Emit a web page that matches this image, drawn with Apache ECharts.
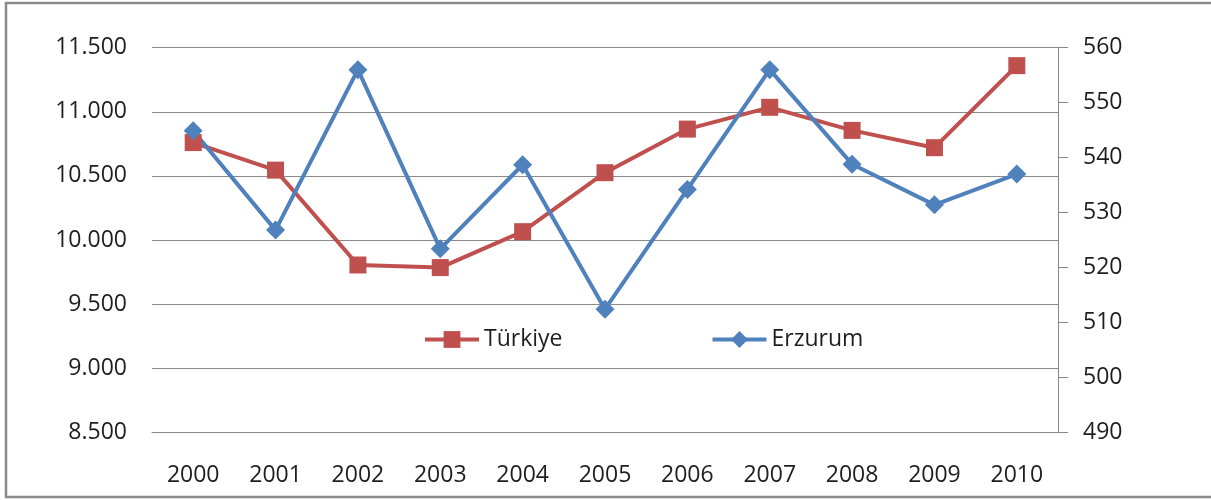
<!DOCTYPE html>
<html>
<head>
<meta charset="utf-8">
<script src="https://cdn.jsdelivr.net/npm/echarts@6/dist/echarts.min.js"></script>
<style>
html,body{margin:0;padding:0;background:#fff;}
#c{width:1211px;height:500px;}
</style>
</head>
<body>
<div id="c"></div>
<script>
const years = ['2000','2001','2002','2003','2004','2005','2006','2007','2008','2009','2010'];
const turkiye = [10760, 10545, 9805, 9785, 10065, 10525, 10865, 11035, 10855, 10720, 11360];
const erzurum = [544.9, 526.8, 556, 523.4, 538.7, 512.4, 534.2, 556, 538.8, 531.4, 537];
const leftMin = 8500, leftMax = 11500, leftStep = 500;
const rightMin = 490, rightMax = 560, rightStep = 10;

const font = 'Open Sans';
const fs = 23;
const chart = echarts.init(document.getElementById('c'));
chart.setOption({
  backgroundColor: '#fff',
  animation: false,
  graphic: [{
    type: 'rect', silent: true,
    shape: { x: 6, y: 3, width: 1220, height: 494 },
    style: { fill: 'none', stroke: '#8a8a8a', lineWidth: 2.5 }
  }],
  grid: { left: 152, right: 153, top: 47.7, bottom: 67.7 },
  legend: {
    left: 418, top: 323,
    itemWidth: 54, itemHeight: 21, itemGap: 148,
    lineStyle: { width: 4 },
    textStyle: { fontFamily: font, fontSize: fs, color: '#1e1e1e' },
    data: ['Türkiye', 'Erzurum']
  },
  xAxis: {
    type: 'category', data: years, boundaryGap: true,
    axisLine: { show: true, lineStyle: { color: '#888', width: 1 } },
    axisTick: { show: false },
    axisLabel: { fontFamily: font, fontSize: fs, color: '#1e1e1e', margin: 32 }
  },
  yAxis: [{
    type: 'value', min: leftMin, max: leftMax, interval: leftStep,
    axisLine: { show: false }, axisTick: { show: false },
    splitLine: { show: true, lineStyle: { color: '#8a8a8a', width: 1 } },
    axisLabel: { fontFamily: font, fontSize: fs, color: '#1e1e1e', margin: 25,
      formatter: v => String(v).replace(/\B(?=(\d{3})+(?!\d))/g, '.') }
  }, {
    type: 'value', min: rightMin, max: rightMax, interval: rightStep, position: 'right',
    axisLine: { show: true, lineStyle: { color: '#888', width: 1 } },
    axisTick: { show: true, length: 10, lineStyle: { color: '#888' } },
    splitLine: { show: false },
    axisLabel: { fontFamily: font, fontSize: fs, color: '#1e1e1e', margin: 25 }
  }],
  series: [{
    name: 'Türkiye', type: 'line', yAxisIndex: 0, data: turkiye,
    symbol: 'rect', symbolSize: 17,
    lineStyle: { color: '#C0504D', width: 4 },
    itemStyle: { color: '#C0504D' }
  }, {
    name: 'Erzurum', type: 'line', yAxisIndex: 1, data: erzurum,
    symbol: 'diamond', symbolSize: 19,
    lineStyle: { color: '#4F81BD', width: 4 },
    itemStyle: { color: '#4F81BD' }
  }]
});
</script>
</body>
</html>
